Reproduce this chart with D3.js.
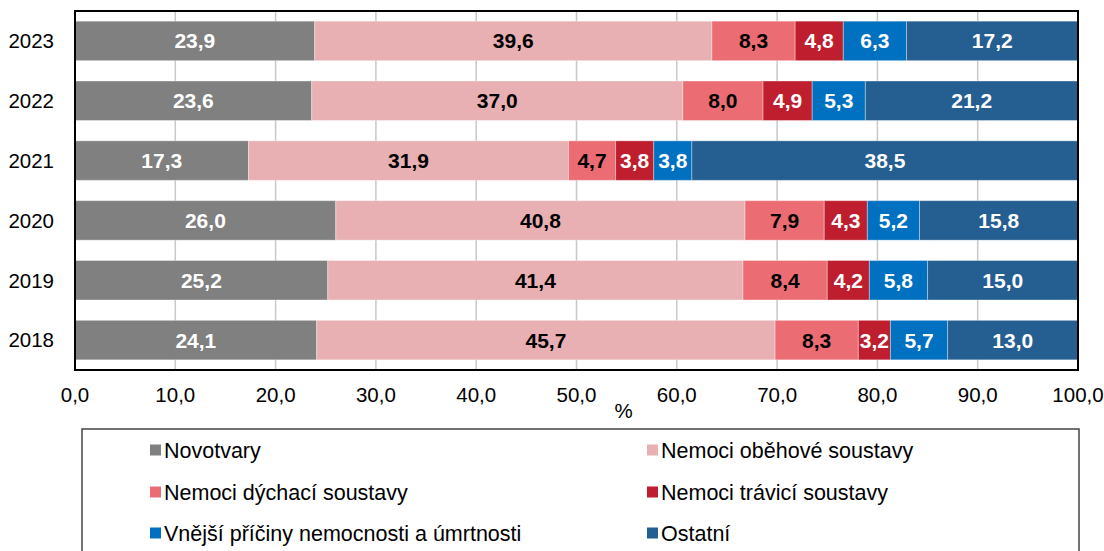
<!DOCTYPE html>
<meta charset="utf-8">
<title>Struktura příčin</title>
<style>
body { margin: 0; background: #fff; }
text { font-family: "Liberation Sans", Arial, sans-serif; }
.grid line { stroke: #c8c8c8; stroke-width: 1.5px; }
.lbl { font-weight: bold; font-size: 21px; }
</style>
<body>
<div id="chart"></div>
<script src="https://cdn.jsdelivr.net/npm/d3@7/dist/d3.min.js"></script>
<script>
// data
const years = ["2023", "2022", "2021", "2020", "2019", "2018"];
const seriesNames = ["Novotvary", "Nemoci oběhové soustavy", "Nemoci dýchací soustavy",
                     "Nemoci trávicí soustavy", "Vnější příčiny nemocnosti a úmrtnosti", "Ostatní"];
const novotvary = [23.9, 23.6, 17.3, 26.0, 25.2, 24.1];
const obehove   = [39.6, 37.0, 31.9, 40.8, 41.4, 45.7];
const dychaci   = [8.3, 8.0, 4.7, 7.9, 8.4, 8.3];
const travici   = [4.8, 4.9, 3.8, 4.3, 4.2, 3.2];
const vnejsi    = [6.3, 5.3, 3.8, 5.2, 5.8, 5.7];
const ostatni   = [17.2, 21.2, 38.5, 15.8, 15.0, 13.0];
const xTicks = [0, 10, 20, 30, 40, 50, 60, 70, 80, 90, 100];

const colors = ["#808080", "#e8b0b3", "#eb6c73", "#be1e2d", "#0070c0", "#255e91"];
const textColors = ["#fff", "#000", "#000", "#fff", "#fff", "#fff"];

const width = 1104, height = 551;
const margin = {top: 11, right: 26, bottom: 181, left: 75};
const chartW = width - margin.left - margin.right;
const chartH = height - margin.top - margin.bottom;

const allSeries = [novotvary, obehove, dychaci, travici, vnejsi, ostatni];
const rows = years.map((y, i) => {
  const r = {year: y};
  seriesNames.forEach((s, j) => r[s] = allSeries[j][i]);
  return r;
});
const stacked = d3.stack().keys(seriesNames)(rows);

const x = d3.scaleLinear().domain([0, 100]).range([0, chartW]);
const y = d3.scaleBand().domain(years).range([0, chartH]).paddingInner(0.34).paddingOuter(0.17);

const svg = d3.select("#chart").append("svg")
  .attr("width", width).attr("height", height);

const g = svg.append("g").attr("transform", `translate(${margin.left},${margin.top})`);

g.append("clipPath").attr("id", "clip")
  .append("rect").attr("width", chartW).attr("height", chartH);

// gridlines
g.append("g").attr("class", "grid")
  .selectAll("line").data(xTicks.slice(1, -1)).enter().append("line")
  .attr("x1", d => x(d)).attr("x2", d => x(d))
  .attr("y1", 0).attr("y2", chartH);

// bars
const layers = g.append("g").attr("clip-path", "url(#clip)")
  .selectAll("g.layer").data(stacked).enter().append("g")
  .attr("class", "layer")
  .attr("fill", (d, i) => colors[i]);

layers.selectAll("rect").data(d => d).enter().append("rect")
  .attr("x", d => x(d[0]))
  .attr("y", d => y(d.data.year))
  .attr("width", d => x(d[1]) - x(d[0]))
  .attr("height", y.bandwidth())
  .attr("stroke", "rgba(255,255,255,0.35)")
  .attr("stroke-width", 1);

// labels
stacked.forEach((layer, i) => {
  g.append("g").selectAll("text").data(layer).enter().append("text")
    .attr("class", "lbl")
    .attr("x", d => x((d[0] + Math.min(d[1], 100)) / 2))
    .attr("y", d => y(d.data.year) + y.bandwidth() / 2)
    .attr("dy", "0.36em")
    .attr("text-anchor", "middle")
    .attr("fill", textColors[i])
    .text(d => d3.format(".1f")(d[1] - d[0]).replace(".", ","));
});

// frame
g.append("rect").attr("width", chartW).attr("height", chartH)
  .attr("fill", "none").attr("stroke", "#000").attr("stroke-width", 2);

// x axis labels
g.append("g").selectAll("text").data(xTicks).enter().append("text")
  .attr("x", d => x(d)).attr("y", chartH + 32)
  .attr("text-anchor", "middle").attr("font-size", 20.5)
  .text(d => d3.format(".1f")(d).replace(".", ","));

g.append("text").attr("x", x(54.7)).attr("y", chartH + 48)
  .attr("text-anchor", "middle").attr("font-size", 20.5).text("%");

// y axis labels
g.append("g").selectAll("text").data(years).enter().append("text")
  .attr("x", -21).attr("y", d => y(d) + y.bandwidth() / 2)
  .attr("dy", "0.36em").attr("text-anchor", "end").attr("font-size", 20.5)
  .text(d => d);

// legend
const legend = svg.append("g");
legend.append("rect")
  .attr("x", 82).attr("y", 429).attr("width", 997).attr("height", 140)
  .attr("fill", "none").attr("stroke", "#444").attr("stroke-width", 1.5);

const legX = [150, 647], legY = [450, 492, 533];
seriesNames.forEach((s, i) => {
  const lx = legX[i % 2], ly = legY[Math.floor(i / 2)];
  legend.append("rect").attr("x", lx).attr("y", ly - 5.5)
    .attr("width", 11).attr("height", 11).attr("fill", colors[i]);
  legend.append("text").attr("x", lx + 14).attr("y", ly).attr("dy", "0.36em")
    .attr("font-size", 21.5).text(s);
});
</script>
</body>
